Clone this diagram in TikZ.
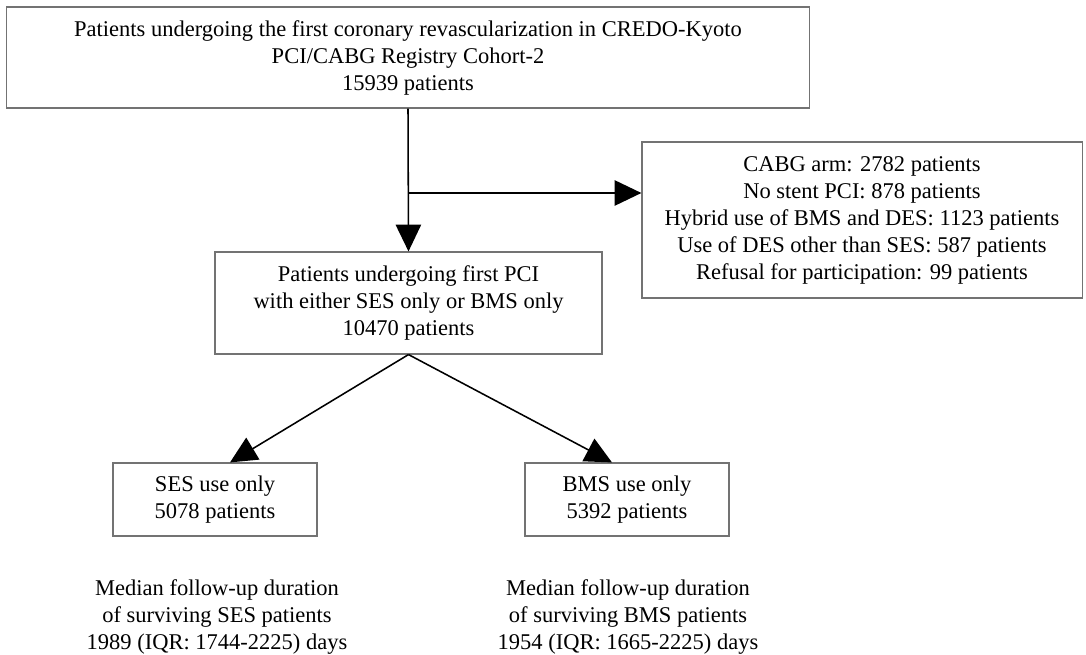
\documentclass[tikz,border=0pt]{standalone}
\usepackage{fontspec}
\setmainfont{Liberation Serif}
\usetikzlibrary{arrows.meta,calc}
\begin{document}
\begin{tikzpicture}[x=0.025cm, y=-0.025cm,
  box/.style={draw=gray!90!black, line width=0.8pt, align=center, inner sep=0pt,
    font=\fontsize{16}{19.2}\selectfont},
  note/.style={align=center, inner sep=0pt, font=\fontsize{16}{19.5}\selectfont},
  flow/.style={line width=1.1pt, -{Triangle[length=19pt,width=18pt]}}]
  \useasboundingbox (0,0) rectangle (1086,655);

  % boxes
  \node[box, minimum width=20.05cm, minimum height=2.525cm] (cohort) at (408,57.5)
    {Patients undergoing the first coronary revascularization in CREDO-Kyoto\\
     PCI/CABG Registry Cohort-2\\15939 patients};
  \node[box, minimum width=11cm, minimum height=3.9cm] (excl) at (862,220)
    {CABG arm: 2782 patients\\No stent PCI: 878 patients\\
     Hybrid use of BMS and DES: 1123 patients\\
     Use of DES other than SES: 587 patients\\
     Refusal for participation: 99 patients};
  \node[box, minimum width=9.675cm, minimum height=2.55cm] (pci) at (408.5,303)
    {Patients undergoing first PCI\\with either SES only or BMS only\\10470 patients};
  \node[box, minimum width=5.1cm, minimum height=1.825cm] (ses) at (215,499.5)
    {SES use only\\5078 patients};
  \node[box, minimum width=5.1cm, minimum height=1.825cm] (bms) at (627,499.5)
    {BMS use only\\5392 patients};

  % follow-up notes
  \node[note] (sesnote) at (217,617)
    {Median follow-up duration\\of surviving SES patients\\1989 (IQR: 1744-2225) days};
  \node[note] (bmsnote) at (628,617)
    {Median follow-up duration\\of surviving BMS patients\\1954 (IQR: 1665-2225) days};

  % arrows
  \coordinate (split) at (408,193);
  \draw[flow] (cohort.south) -- (pci.north);
  \draw[flow] (split) -- (split -| excl.west);
  \draw[flow] (pci.south) -- ($(ses.north)+(15,0)$);
  \draw[flow] (pci.south) -- ($(bms.north)+(-15,0)$);
\end{tikzpicture}
\end{document}
